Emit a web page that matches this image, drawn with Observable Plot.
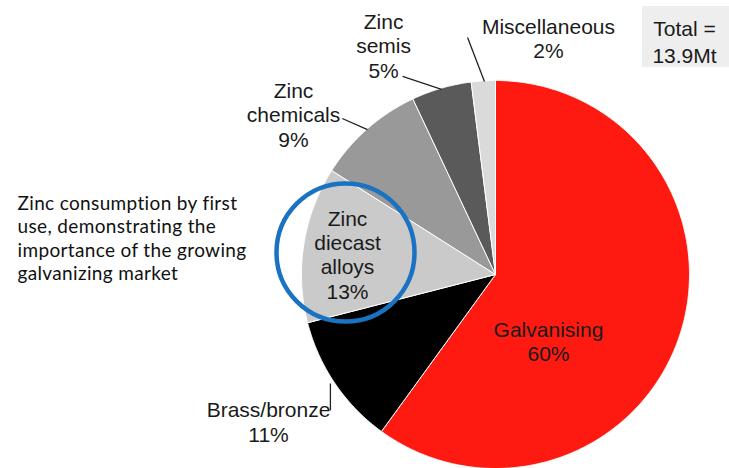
<!DOCTYPE html>
<html><head><meta charset="utf-8">
<script src="https://cdn.jsdelivr.net/npm/d3@7"></script>
<script src="https://cdn.jsdelivr.net/npm/@observablehq/plot@0.6"></script>
<style>body{margin:0;background:#fff}#chart svg{display:block}.note text{letter-spacing:0.35px}</style>
</head><body><div id="chart"></div>
<script>
// ---- data ----
const categories = ["Galvanising", "Brass/bronze", "Zinc diecast alloys", "Zinc chemicals", "Zinc semis", "Miscellaneous"];
const shares = [60, 11, 13, 9, 5, 2];
const labelLines = ["Galvanising\n60%", "Brass/bronze\n11%", "Zinc\ndiecast\nalloys\n13%", "Zinc\nchemicals\n9%", "Zinc\nsemis\n5%", "Miscellaneous\n2%"];
const totalText = "Total =\n13.9Mt";
const noteText = "Zinc consumption by first\nuse, demonstrating the\nimportance of the growing\ngalvanizing market";

// ---- styling / layout (pie radius = 1 unit) ----
const sliceColors = ["#fe1a10", "#000000", "#cacaca", "#999999", "#5a5a5a", "#dadada"];
const W = 729, H = 468, cxPx = 495, cyPx = 274, rPx = 194;
const labelPos = [[0.273, -0.345], [-1.170, -0.758], [-0.763, 0.103], [-1.041, 0.825], [-0.577, 1.180], [0.273, 1.219]];
const leaders = [
  {x1: -0.479, y1: 1.021, x2: -0.278, y2: 0.954},
  {x1: -0.790, y1: 0.804, x2: -0.660, y2: 0.747},
  {x1: -0.144, y1: 1.222, x2: -0.057, y2: 0.995},
  {x1: -0.851, y1: -0.562, x2: -0.851, y2: -0.701}
];

const rows = categories.map((c, i) => ({cat: c, share: shares[i]}));
const arcs = d3.pie().sort(null).value(d => d.share)(rows);
const pts = arcs.flatMap(a => {
  const n = Math.max(4, Math.ceil((a.endAngle - a.startAngle) / 0.005));
  const out = [{cat: a.data.cat, x: 0, y: 0}];
  for (let i = 0; i <= n; i++) {
    const t = a.startAngle + (a.endAngle - a.startAngle) * i / n;
    out.push({cat: a.data.cat, x: Math.sin(t), y: Math.cos(t)});
  }
  out.push({cat: a.data.cat, x: 0, y: 0});
  return out;
});
const labels = categories.map((c, i) => ({text: labelLines[i], x: labelPos[i][0], y: labelPos[i][1]}));

const chart = Plot.plot({
  width: W, height: H,
  margin: 0,
  x: {domain: [-cxPx / rPx, (W - cxPx) / rPx], range: [0, W], axis: null},
  y: {domain: [-(H - cyPx) / rPx, cyPx / rPx], range: [H, 0], axis: null},
  color: {domain: categories, range: sliceColors},
  style: {fontFamily: "'Liberation Sans', Arial, sans-serif", background: "#fff"},
  marks: [
    Plot.line(pts, {x: "x", y: "y", z: "cat", fill: "cat", stroke: "white", strokeWidth: 1, curve: "linear"}),
    Plot.rect([0], {x1: () => (642 - cxPx) / rPx, x2: () => (W + 5 - cxPx) / rPx, y1: () => (cyPx - 67) / rPx, y2: () => (cyPx - 6) / rPx, fill: "#eeeeee"}),
    Plot.text([totalText], {x: () => (684 - cxPx) / rPx, y: () => (cyPx - 40) / rPx, text: d => d, fontSize: 21, lineHeight: 1.28, fill: "#1a1a1a"}),
    Plot.link(leaders, {x1: "x1", y1: "y1", x2: "x2", y2: "y2", stroke: "#222", strokeWidth: 1.3}),
    Plot.text(labels, {x: "x", y: "y", text: "text", fontSize: 21, lineHeight: 1.16, fill: "#1a1a1a"}),
    Plot.dot([0], {x: () => (345 - cxPx) / rPx, y: () => (cyPx - 252) / rPx, r: 69, stroke: "#1a72c2", strokeWidth: 4.5, fill: "none"}),
    Plot.text([noteText], {x: () => (17 - cxPx) / rPx, y: () => (cyPx - 237) / rPx, text: d => d, textAnchor: "start", fontSize: 19, lineHeight: 1.22, fill: "#111", fontFamily: "Lato, sans-serif", className: "note"})
  ]
});
document.getElementById("chart").append(chart);
</script>
</body></html>
